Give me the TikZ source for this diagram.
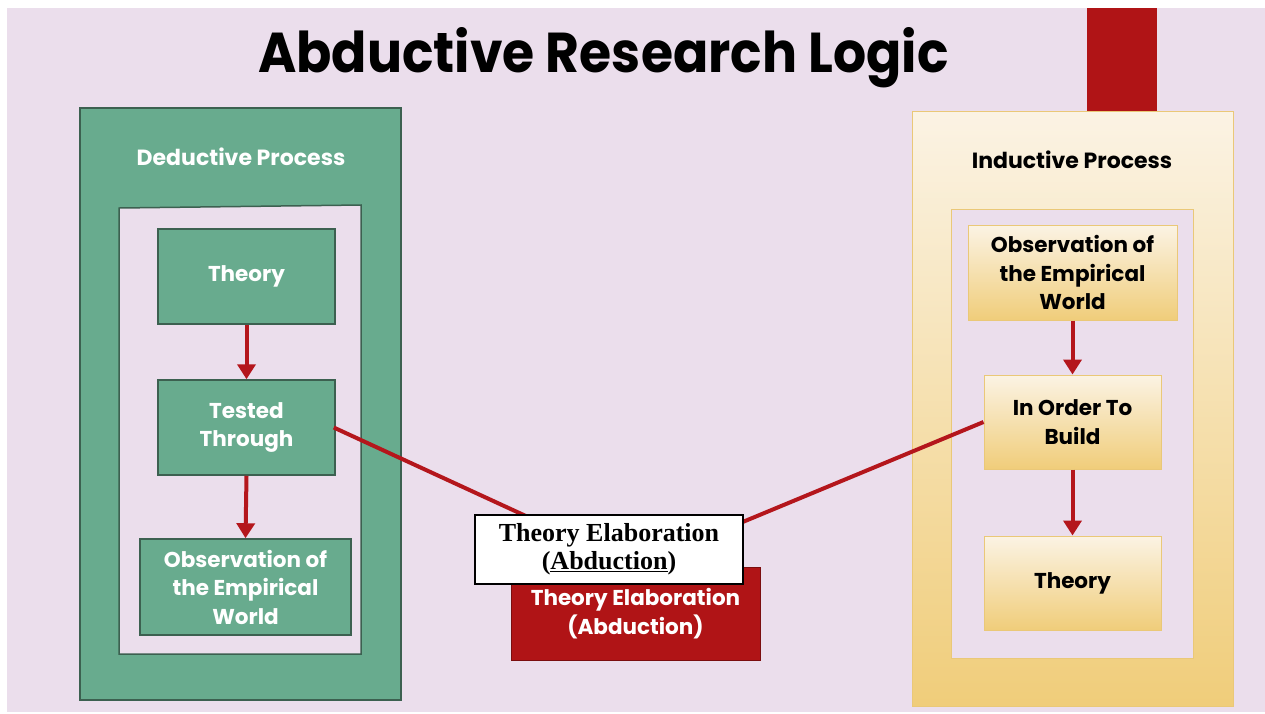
\documentclass[tikz,border=0pt]{standalone}
\usepackage{fontspec}
\setmainfont{Poppins}
\newfontfamily\elabfont{Liberation Serif}
\usetikzlibrary{arrows.meta}

\definecolor{pagebg}{RGB}{235,222,236}
\definecolor{deepgreen}{RGB}{104,171,142}
\definecolor{greenedge}{RGB}{60,96,80}
\definecolor{barred}{RGB}{176,20,22}
\definecolor{arrowred}{RGB}{180,22,28}
\definecolor{cream}{RGB}{251,243,228}
\definecolor{gold}{RGB}{240,205,122}
\definecolor{goldedge}{RGB}{234,200,120}

\begin{document}
\begin{tikzpicture}[x=1pt,y=-1pt,
  boxfont/.style={font=\bfseries\fontsize{21.5}{28.5}\selectfont},
  headfont/.style={font=\bfseries\fontsize{22}{26}\selectfont},
  greenbox/.style={draw=greenedge, line width=1.5pt, fill=deepgreen,
    text=white, boxfont, align=center, inner sep=0pt},
  goldbox/.style={draw=goldedge, line width=1pt, top color=cream,
    bottom color=gold, text=black, boxfont, align=center, inner sep=0pt},
  flow/.style={draw=arrowred, line width=4pt,
    -{Triangle[width=18pt,length=15pt]}},
  link/.style={draw=arrowred, line width=4pt},
]
\useasboundingbox (0,0) rectangle (1265,713);
\fill[white] (0,0) rectangle (1265,713);
\fill[pagebg] (7,8) rectangle (1265,712);

% title
\node[anchor=base west, inner sep=0pt] (title) at (258,72)
  {\resizebox{690pt}{45pt}{\bfseries Abductive Research Logic}};

% red bar above the inductive panel
\fill[barred] (1087,8) rectangle (1157,111);

% ---------- deductive panel ----------
\node[draw=greenedge, line width=1.5pt, fill=deepgreen, minimum width=321pt,
  minimum height=592pt, inner sep=0pt] (deductive) at (240.5,404) {};
\node[text=white, headfont] (dedhead) at (241,157) {Deductive Process};
\draw[greenedge, line width=1.5pt, fill=pagebg]
  (119,208) -- (361,205) -- (361,654) -- (119,654) -- cycle;

\node[greenbox, minimum width=177pt, minimum height=95pt] (theoryD) at (246.5,276.5) {Theory};
\node[greenbox, minimum width=177pt, minimum height=95pt] (testedD) at (246.5,427.5) {Tested\\Through};
\node[greenbox, minimum width=211pt, minimum height=96pt] (obsD) at (245.5,587) {Observation of\\the Empirical\\World};

\draw[flow] (theoryD.south) -- (testedD.north);
\draw[flow] (testedD.south) -- (obsD.north);

% ---------- inductive panel ----------
\node[draw=goldedge, line width=1pt, top color=cream, bottom color=gold,
  minimum width=321pt, minimum height=595pt, inner sep=0pt] (inductive) at (1072.5,408.5) {};
\node[text=black, headfont] (indhead) at (1072,160) {Inductive Process};
\draw[goldedge, line width=1pt, fill=pagebg] (951,209) rectangle (1193,658);

\node[goldbox, minimum width=209pt, minimum height=95pt] (obsI) at (1072.5,272.5) {Observation of\\the Empirical\\World};
\node[goldbox, minimum width=177pt, minimum height=94pt] (buildI) at (1072.5,422) {In Order To\\Build};
\node[goldbox, minimum width=177pt, minimum height=94pt] (theoryI) at (1072.5,583) {Theory};

\draw[flow] (obsI.south) -- (buildI.north);
\draw[flow] (buildI.south) -- (theoryI.north);

% ---------- abduction ----------
\node[draw=barred!70!black, line width=1pt, fill=barred, text=white, boxfont,
  align=center, inner sep=0pt, minimum width=249pt, minimum height=93pt]
  (elab) at (635.5,613.5) {Theory Elaboration\\(Abduction)};

\draw[link] ([xshift=-2pt]testedD.east) -- (elab.north);
\draw[link] (buildI.west) -- (elab.north);

\node[draw=black, line width=2pt, fill=white, text=black, align=center,
  inner sep=0pt, minimum width=268pt, minimum height=69pt,
  font=\elabfont\bfseries\fontsize{26}{28}\selectfont]
  (elabnote) at (609,549.5) {Theory Elaboration\\(\underline{Abduction})};
\end{tikzpicture}
\end{document}
